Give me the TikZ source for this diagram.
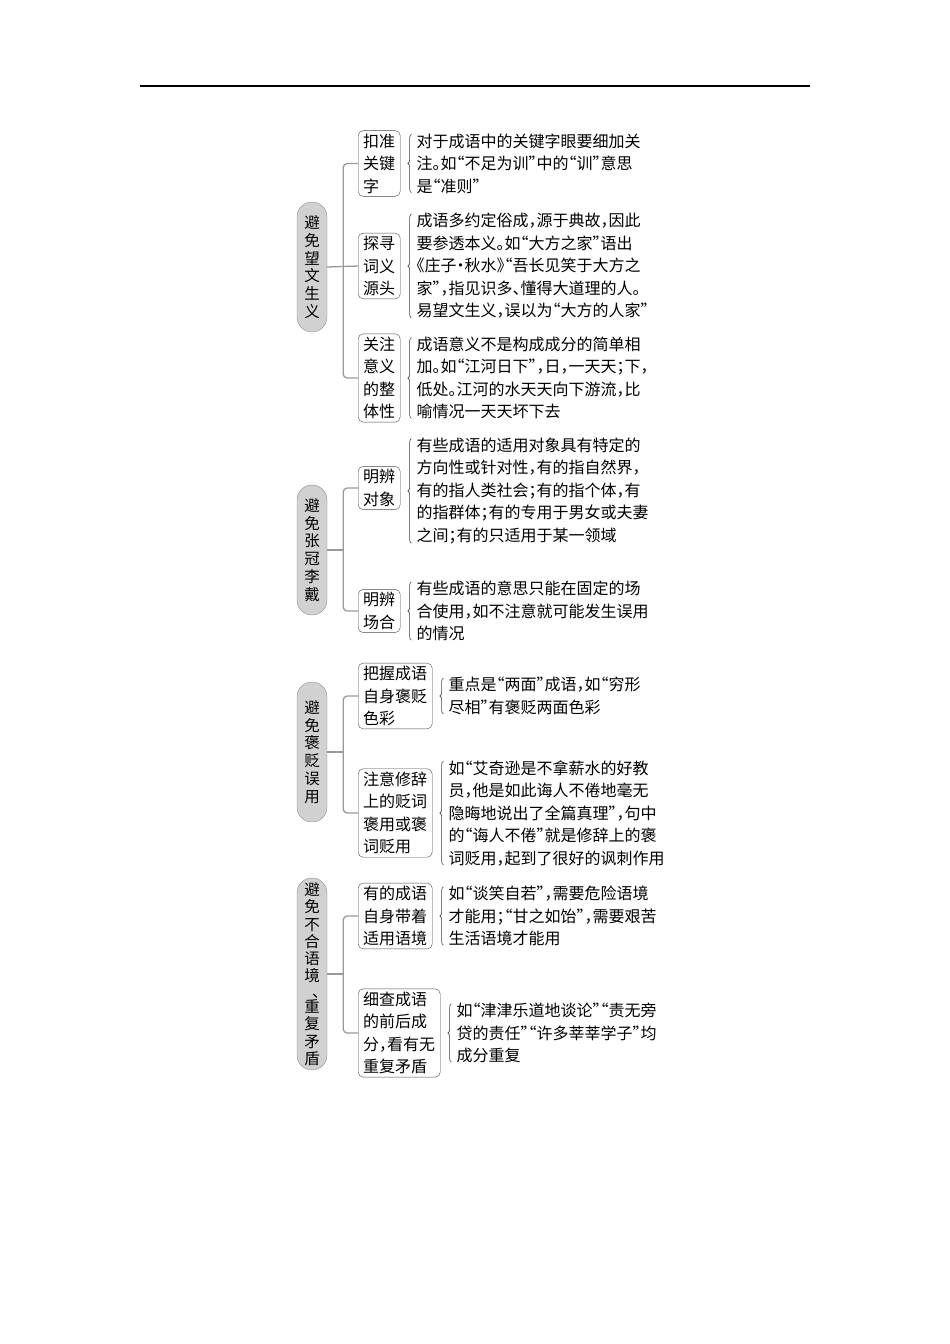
\documentclass[tikz,border=0pt]{standalone}
\usepackage{fontspec}
\setmainfont{Noto Sans CJK SC}[RawFeature=+halt]
\usepackage{tikz}
\usetikzlibrary{positioning}
\usetikzlibrary{decorations.pathreplacing}
\tikzstyle{pill}=[draw=black!45,fill=black!18,rounded corners=15pt,minimum width=30pt,inner sep=2pt,align=center,font=\fontsize{15.5}{17.8}\selectfont]
\tikzstyle{leaf}=[draw=black!70,fill=white,rounded corners=5pt,inner xsep=5pt,inner ysep=3pt,align=left,font=\fontsize{16}{22.5}\selectfont]
\tikzstyle{desc}=[inner sep=2pt,align=left,font=\fontsize{16}{22.5}\selectfont]

\begin{document}
\begin{tikzpicture}[x=1pt,y=-1pt,node distance=14pt,
  branch/.style={draw=black!40,line width=1.3pt,rounded corners=4pt},
  brace/.style={draw=black!75,line width=0.6pt,decorate,decoration={brace,amplitude=3.5pt}}]
\useasboundingbox (0,0) rectangle (950,1344);
\draw[line width=1.2pt] (140,86) -- (810,86);

% 避免望文生义
\node [pill,minimum height=130pt] (g1) at (312,267) {避\\免\\望\\文\\生\\义};
\node [leaf,anchor=west] (k1) at (358,163.5) {扣准\\关键\\字};
\node [leaf,anchor=west] (k2) at (358,266) {探寻\\词义\\源头};
\node [leaf,anchor=west] (k3) at (358,378) {关注\\意义\\的整\\体性};
\node [desc,right=of k1] (t1) {对于成语中的关键字眼要细加关\\注。如“不足为训”中的“训”意思\\是“准则”};
\node [desc,right=of k2] (t2) {成语多约定俗成，源于典故，因此\\要参透本义。如“大方之家”语出\\《庄子·秋水》“吾长见笑于大方之\\家”，指见识多、懂得大道理的人。\\易望文生义，误以为“大方的人家”};
\node [desc,right=of k3] (t3) {成语意义不是构成成分的简单相\\加。如“江河日下”，日，一天天；下，\\低处。江河的水天天向下游流，比\\喻情况一天天坏下去};
\draw [branch] (k1.west) -| ([xshift=16pt]g1.east) |- (k3.west);
\draw [branch] (g1.east) -- (k2.west);

% 避免张冠李戴
\node [pill,minimum height=130pt] (g2) at (312,550) {避\\免\\张\\冠\\李\\戴};
\node [leaf,anchor=west] (b1) at (358,488) {明辨\\对象};
\node [leaf,anchor=west] (b2) at (358,611) {明辨\\场合};
\node [desc,right=of b1,yshift=-3pt] (t4) {有些成语的适用对象具有特定的\\方向性或针对性，有的指自然界，\\有的指人类社会；有的指个体，有\\的指群体；有的专用于男女或夫妻\\之间；有的只适用于某一领域};
\node [desc,right=of b2] (t5) {有些成语的意思只能在固定的场\\合使用，如不注意就可能发生误用\\的情况};
\draw [branch] (b1.west) -| ([xshift=16pt]g2.east) |- (b2.west);
\draw [branch] (g2.east) -- ++(16pt,0);

% 避免褒贬误用
\node [pill,minimum height=140pt] (g3) at (312,752) {避\\免\\褒\\贬\\误\\用};
\node [leaf,anchor=west] (c1) at (358,696) {把握成语\\自身褒贬\\色彩};
\node [leaf,anchor=west] (c2) at (358,813) {注意修辞\\上的贬词\\褒用或褒\\词贬用};
\node [desc,right=of c1] (t6) {重点是“两面”成语，如“穷形\\尽相”有褒贬两面色彩};
\node [desc,right=of c2] (t7) {如“艾奇逊是不拿薪水的好教\\员，他是如此诲人不倦地毫无\\隐晦地说出了全篇真理”，句中\\的“诲人不倦”就是修辞上的褒\\词贬用，起到了很好的讽刺作用};
\draw [branch] (c1.west) -| ([xshift=16pt]g3.east) |- (c2.west);
\draw [branch] (g3.east) -- ++(16pt,0);

% 避免不合语境、重复矛盾
\node [pill,minimum height=192pt,font=\fontsize{15.5}{17.3}\selectfont] (g4) at (312,974) {避\\免\\不\\合\\语\\境\\[-2pt]\hspace*{0.5em}、\\[-2pt]重\\复\\矛\\盾};
\node [leaf,anchor=west] (d1) at (358,916) {有的成语\\自身带着\\适用语境};
\node [leaf,anchor=west] (d2) at (358,1033) {细查成语\\的前后成\\分，看有无\\重复矛盾};
\node [desc,right=of d1] (t8) {如“谈笑自若”，需要危险语境\\才能用；“甘之如饴”，需要艰苦\\生活语境才能用};
\node [desc,right=of d2] (t9) {如“津津乐道地谈论”“责无旁\\贷的责任”“许多莘莘学子”均\\成分重复};
\draw [branch] (d1.west) -| ([xshift=16pt]g4.east) |- (d2.west);
\draw [branch] (g4.east) -- ++(16pt,0);

% braces
\foreach \t in {t1,t2,t3,t4,t5,t6,t7,t8,t9}
  \draw [brace] ([xshift=-3pt,yshift=3pt]\t.south west) -- ([xshift=-3pt,yshift=-3pt]\t.north west);
\end{tikzpicture}
\end{document}
